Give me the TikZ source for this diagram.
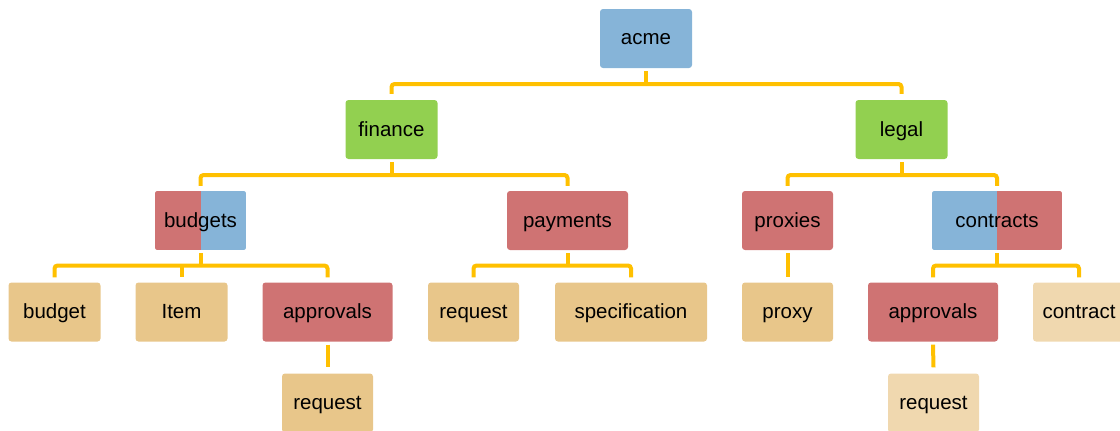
\documentclass[tikz,border=0pt]{standalone}
\usepackage{fontspec}
\setmainfont{Liberation Sans}
\usetikzlibrary{backgrounds}
\definecolor{cblue}{HTML}{86B4D8}
\definecolor{cgreen}{HTML}{92D050}
\definecolor{cred}{HTML}{CF7373}
\definecolor{ctan}{HTML}{E8C68A}
\definecolor{clight}{HTML}{F0D8AF}
\definecolor{cgold}{HTML}{FFC000}
\tikzset{
  box/.style={rounded corners=3pt, minimum height=59pt, minimum width=92pt, inner sep=0pt,
    text height=17.3pt, text depth=4.3pt,
    font=\fontsize{20.5}{24}\selectfont, text=black},
  bluebox/.style={box, fill=cblue},
  greenbox/.style={box, fill=cgreen},
  redbox/.style={box, fill=cred},
  tanbox/.style={box, fill=ctan},
  lightbox/.style={box, fill=clight},
  conn/.style={draw=cgold, line width=4pt, rounded corners=3pt},
}
\newcommand{\splitfill}[3]{%
  \begin{scope}
    \clip[rounded corners=3pt] (#1.north west) rectangle (#1.south east);
    \fill[#2] (#1.north west) rectangle (#1.south);
    \fill[#3] (#1.north) rectangle (#1.south east);
  \end{scope}}
\begin{document}
\begin{tikzpicture}[x=1pt,y=-1pt]
\useasboundingbox (0,0) rectangle (1120,431);
\clip (0,0) rectangle (1120,431);
% buses
\coordinate (b1) at (0,84);
\coordinate (b2) at (0,175);
\coordinate (b3) at (0,265.5);
% nodes
\node[bluebox] (acme) at (646,38.5) {acme};
\node[greenbox] (finance) at (391.5,129.5) {finance};
\node[greenbox] (legal) at (901.5,129.5) {legal};
\node[box, minimum width=91pt] (budgets) at (200.5,220.5) {budgets};
\node[redbox, minimum width=121pt] (payments) at (567.5,220.5) {payments};
\node[redbox, minimum width=91pt] (proxies) at (787.5,220.5) {proxies};
\node[box, minimum width=130pt] (contracts) at (997,220.5) {contracts};
\node[tanbox] (budget) at (54.5,312) {budget};
\node[tanbox] (item) at (181.5,312) {Item};
\node[redbox, minimum width=130pt] (appr1) at (327.5,312) {approvals};
\node[tanbox, minimum width=91pt] (req1) at (327.5,403) {request};
\node[tanbox, minimum width=91pt] (req2) at (473.5,312) {request};
\node[tanbox, minimum width=152pt] (spec) at (631,312) {specification};
\node[tanbox, minimum width=91pt] (proxy) at (787.5,312) {proxy};
\node[redbox, minimum width=130pt] (appr2) at (933,312) {approvals};
\node[lightbox] (contract) at (1079,312) {contract};
\node[lightbox, minimum width=91pt] (req3) at (933.5,403) {request};
\begin{pgfonlayer}{background}
  \splitfill{budgets}{cred}{cblue}
  \splitfill{contracts}{cblue}{cred}
\end{pgfonlayer}
% connectors
\draw[conn] ([yshift=-3pt]acme.south) -- (acme.south |- b1);
\draw[conn] ([yshift=6pt]finance.north) |- (legal.north |- b1) -- ([yshift=6pt]legal.north);

\draw[conn] ([yshift=-3pt]finance.south) -- (finance.south |- b2);
\draw[conn] ([yshift=5pt]budgets.north) |- (payments.north |- b2) -- ([yshift=5pt]payments.north);
\draw[conn] ([yshift=-3pt]legal.south) -- (legal.south |- b2);
\draw[conn] ([yshift=5pt]proxies.north) |- (contracts.north |- b2) -- ([yshift=5pt]contracts.north);

\draw[conn] ([yshift=-3pt]budgets.south) -- (budgets.south |- b3);
\draw[conn] ([yshift=5pt]budget.north) |- (appr1.north |- b3) -- ([yshift=5pt]appr1.north);
\draw[conn] (item.north |- b3) -- ([yshift=5pt]item.north);
\draw[conn] ([yshift=-3pt]payments.south) -- (payments.south |- b3);
\draw[conn] ([yshift=5pt]req2.north) |- (spec.north |- b3) -- ([yshift=5pt]spec.north);
\draw[conn] ([yshift=-3pt]proxies.south) -- ([yshift=5pt]proxy.north);
\draw[conn] ([yshift=-3pt]contracts.south) -- (contracts.south |- b3);
\draw[conn] ([yshift=5pt]appr2.north) |- (contract.north |- b3) -- ([yshift=5pt]contract.north);

\draw[conn] ([yshift=-3pt]appr1.south) -- ([yshift=6pt]req1.north);
\draw[conn] ([yshift=-3pt]appr2.south) -- ([yshift=6pt]req3.north);
\end{tikzpicture}
\end{document}
